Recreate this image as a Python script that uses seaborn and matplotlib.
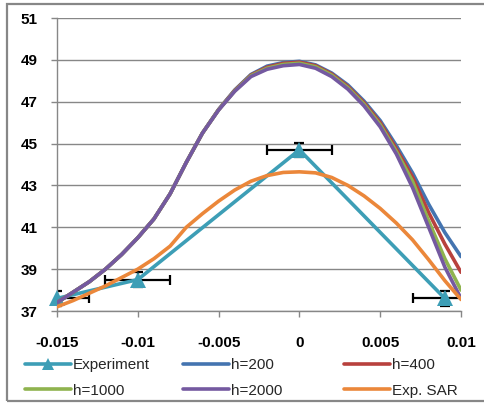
import pandas as pd
import matplotlib
matplotlib.use("Agg")
import matplotlib.pyplot as plt
import seaborn as sns
from matplotlib.lines import Line2D
from matplotlib.patches import Rectangle

# ---------------- data ----------------
x_grid = [-0.015, -0.014, -0.013, -0.012, -0.011, -0.010, -0.009, -0.008, -0.007,
          -0.006, -0.005, -0.004, -0.003, -0.002, -0.001, 0.000, 0.001, 0.002,
          0.003, 0.004, 0.005, 0.006, 0.007, 0.008, 0.009, 0.010]

h200 = [37.4, 37.9, 38.4, 39.0, 39.7, 40.5, 41.4, 42.6, 44.1, 45.5, 46.63, 47.56, 48.3,
        48.7, 48.87, 48.93, 48.76, 48.37, 47.8, 47.03, 46.1, 44.9, 43.6, 42.1, 40.75, 39.6]
h400 = [37.4, 37.9, 38.4, 39.0, 39.7, 40.5, 41.4, 42.6, 44.1, 45.5, 46.62, 47.54, 48.27,
        48.65, 48.83, 48.89, 48.72, 48.32, 47.73, 46.95, 46.0, 44.75, 43.4, 41.7, 40.2, 38.85]
h1000 = [37.4, 37.9, 38.4, 39.0, 39.7, 40.5, 41.4, 42.6, 44.1, 45.5, 46.61, 47.52, 48.24,
         48.6, 48.78, 48.84, 48.67, 48.27, 47.67, 46.88, 45.9, 44.62, 43.2, 41.3, 39.5, 38.0]
h2000 = [37.4, 37.9, 38.4, 39.0, 39.7, 40.5, 41.4, 42.6, 44.1, 45.5, 46.6, 47.5, 48.2,
         48.55, 48.72, 48.78, 48.6, 48.2, 47.6, 46.8, 45.8, 44.5, 42.9, 41.0, 39.1, 37.6]
exp_sar = [37.2, 37.5, 37.85, 38.2, 38.6, 39.0, 39.5, 40.1, 41.0, 41.65, 42.25, 42.78, 43.2,
           43.47, 43.62, 43.65, 43.6, 43.38, 43.0, 42.5, 41.9, 41.2, 40.4, 39.45, 38.45, 37.55]

exp_x = [-0.015, -0.010, 0.000, 0.009]
exp_y = [37.6, 38.5, 44.7, 37.6]
exp_xerr = [0.002, 0.002, 0.002, 0.002]
exp_yerr = [0.35, 0.35, 0.35, 0.35]

series_names = ["h=200", "h=400", "h=1000", "h=2000", "Exp. SAR"]
series_values = [h200, h400, h1000, h2000, exp_sar]
colors = {"Experiment": "#3D9EB6", "h=200": "#4474B0", "h=400": "#B8413D",
          "h=1000": "#8FB34E", "h=2000": "#7459A0", "Exp. SAR": "#EB873A"}

x_ticks = [-0.015, -0.01, -0.005, 0, 0.005, 0.01]
x_tick_labels = ["-0.015", "-0.01", "-0.005", "0", "0.005", "0.01"]
y_ticks = [37, 39, 41, 43, 45, 47, 49, 51]

rows = []
for name, vals in zip(series_names, series_values):
    for xv, yv in zip(x_grid, vals):
        rows.append({"x": xv, "y": yv, "series": name})
df = pd.DataFrame(rows)
df_exp = pd.DataFrame({"x": exp_x, "y": exp_y})

# ---------------- figure ----------------
sns.set_style("white")
plt.rcParams["font.family"] = ["Liberation Sans", "DejaVu Sans"]

W, H = 484, 403
fig = plt.figure(figsize=(W / 100, H / 100), dpi=100)
ax = fig.add_axes([57 / W, 1 - 311 / H, (461 - 57) / W, (311 - 18) / H])

LW = 2.6

ax.errorbar(exp_x, exp_y, xerr=exp_xerr, yerr=exp_yerr, fmt="none", ecolor="black",
            elinewidth=1.6, capsize=3.3, capthick=1.6, zorder=2)

# Experiment
sns.lineplot(data=df_exp, x="x", y="y", ax=ax, color=colors["Experiment"], lw=LW,
             marker="^", markersize=11, markeredgewidth=0, sort=False, legend=False,
             zorder=3)
for ln in ax.lines:
    if ln.get_marker() == "^":
        ln.set_clip_on(False)

for i, name in enumerate(series_names):
    sns.lineplot(data=df[df.series == name], x="x", y="y", ax=ax, color=colors[name],
                 lw=LW, sort=True, legend=False, zorder=4 + i)

ax.set_xlim(-0.015, 0.01)
ax.set_ylim(37, 51)
ax.set_xticks(x_ticks)
ax.set_xticklabels(x_tick_labels)
ax.set_yticks(y_ticks)
ax.set_xlabel("")
ax.set_ylabel("")
ax.grid(axis="y", color="#878787", lw=1.0)
ax.grid(axis="x", visible=False)
ax.set_axisbelow(True)
for s in ["top", "right"]:
    ax.spines[s].set_visible(False)
for s in ["left", "bottom"]:
    ax.spines[s].set_color("#878787")
    ax.spines[s].set_linewidth(1.0)
ax.tick_params(axis="both", which="major", direction="out", length=4, width=1.0,
               color="#878787", labelsize=11, labelcolor="black")
ax.tick_params(axis="y", pad=10, left=True)
ax.tick_params(axis="x", pad=14, bottom=True)
for lab in ax.get_xticklabels() + ax.get_yticklabels():
    lab.set_fontweight("bold")

# legend: three equal-width columns
def handle(name):
    if name == "Experiment":
        return Line2D([], [], color=colors[name], lw=LW, marker="^", markersize=9,
                      markeredgewidth=0)
    return Line2D([], [], color=colors[name], lw=LW)

columns = [["Experiment", "h=1000"], ["h=200", "h=2000"], ["h=400", "Exp. SAR"]]
col_x = [25, 183, 344]
for names, cx in zip(columns, col_x):
    fig.legend([handle(n) for n in names], names, loc="center left",
               bbox_to_anchor=(cx / W, 1 - 378 / H), frameon=False, fontsize=11,
               handlelength=3.0, handletextpad=0.15, labelspacing=0.75,
               borderpad=0, borderaxespad=0, numpoints=1)

fig.patches.append(Rectangle((7 / W, 1 - 401 / H), 1.2, (401 - 4) / H,
                             transform=fig.transFigure, fill=False,
                             edgecolor="#878787", lw=1.6))

fig.savefig("out.png", dpi=100)
